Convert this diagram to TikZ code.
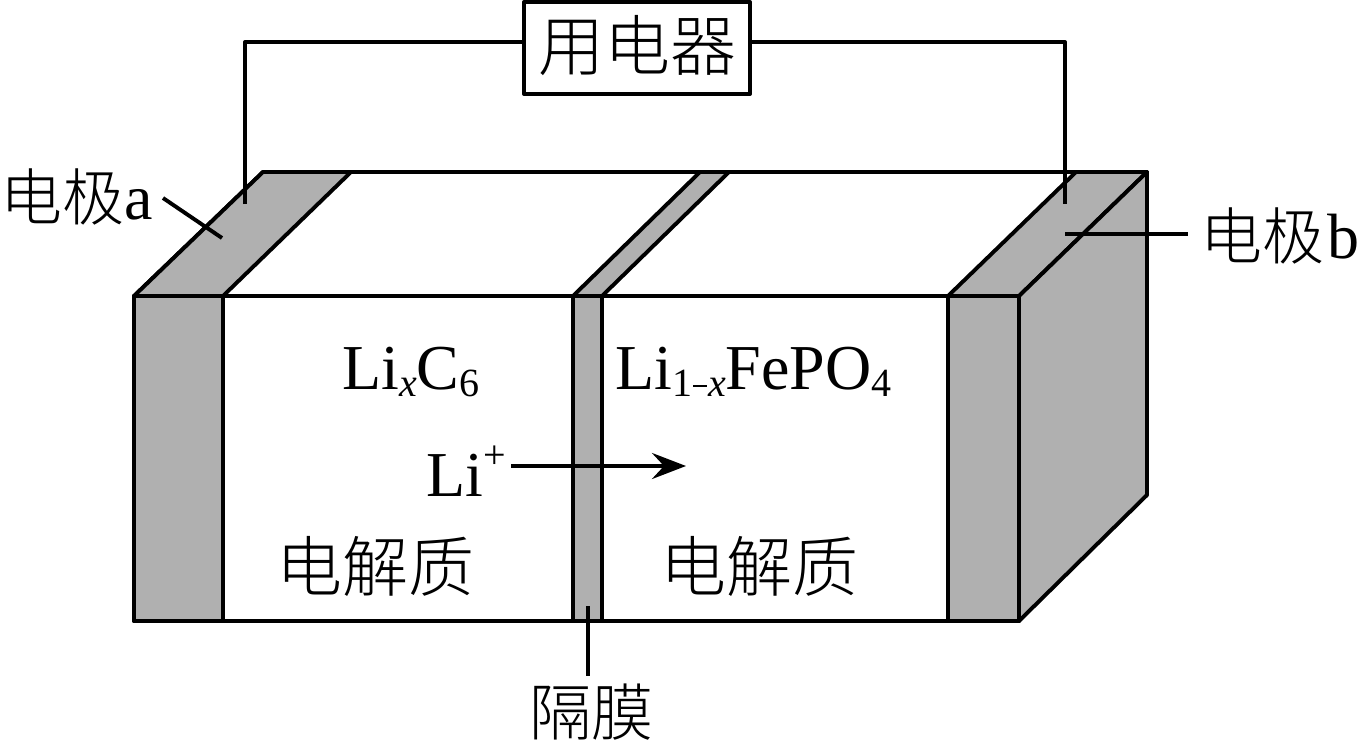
\documentclass[tikz,border=0pt]{standalone}
\usepackage{fontspec}
\setmainfont{Liberation Serif}
\newfontfamily\cjk{Noto Sans CJK SC Light}
\newcommand\smallsz{\fontsize{40}{40}\selectfont}
\usetikzlibrary{arrows.meta}
\begin{document}
\begin{tikzpicture}[x=1pt,y=-1pt,
  fillg/.style={fill=black!31},
  cn/.style={inner sep=0pt,font=\cjk\fontsize{66}{66}\selectfont},
  cnlab/.style={inner sep=0pt,font=\cjk\fontsize{62}{62}\selectfont},
  mix/.style={inner sep=0pt,font=\fontsize{64}{64}\selectfont}]
\useasboundingbox (0,0) rectangle (1358,744);
\begin{scope}[line width=3.9pt,line join=round]
\draw[fill=white] (134,296) -- (263,172) -- (1147,172) -- (1019,296) -- cycle;
\draw[fill=white] (134,296) rectangle (1019,621);
\draw[fillg] (134,296) rectangle (223,621);
\draw[fillg] (134,296) -- (263,172) -- (351,172) -- (223,296) -- cycle;
\draw[fillg] (573,296) rectangle (602,621);
\draw[fillg] (573,296) -- (700,172) -- (729,172) -- (602,296) -- cycle;
\draw[fillg] (948,296) rectangle (1019,621);
\draw[fillg] (948,296) -- (1076,172) -- (1147,172) -- (1019,296) -- cycle;
\draw[fillg] (1019,296) -- (1147,172) -- (1147,495) -- (1019,621) -- cycle;
\node[draw,fill=white,minimum width=226pt,minimum height=92pt,inner sep=0pt] (dev) at (637,48) {};
\coordinate (wa) at (245,204);
\coordinate (wb) at (1065,204);
\draw (wa) -- (245,42) -- (dev.west |- 0,42);
\draw (dev.east |- 0,42) -- (1065,42) -- (wb);
\coordinate (a1) at (163,198); \coordinate (a2) at (222,238);
\draw (a1) -- (a2);
\coordinate (b1) at (1065,234); \coordinate (b2) at (1188,234);
\draw (b1) -- (b2);
\coordinate (m1) at (588,606); \coordinate (m2) at (588,676);
\draw (m1) -- (m2);
\coordinate (l1) at (511,466); \coordinate (l2) at (686,466);
\draw[-{Stealth[length=34pt,width=26pt,inset=12pt]}] (l1) -- (l2);
\end{scope}
\node[cn] (devt) at (637,46) {用电器};
\node[cnlab,anchor=west] (ea) at (0,197) {电极};
\node[mix,anchor=base west] (la) at (124,219) {a};
\node[cnlab,anchor=west] (eb) at (1200,236) {电极};
\node[mix,anchor=base west] (lb) at (1327,258) {b};
\node[cnlab] (mo) at (591,712) {隔膜};
\node[cn] (j1) at (375,566) {电解质};
\node[cn] (j2) at (759,566) {电解质};
\node[mix,anchor=base west] (f1) at (342,389) {Li\raisebox{-7pt}{\smallsz\itshape x}C\raisebox{-7pt}{\smallsz 6}};
\node[mix,anchor=base west] (f2) at (615,389) {Li\raisebox{-7pt}{\smallsz 1\kern1pt\raisebox{9pt}{\rule{14pt}{2.5pt}}\kern1pt\itshape x}FePO\raisebox{-7pt}{\smallsz 4}};
\node[mix,anchor=base west] (f3) at (426,496) {Li\raisebox{28pt}{\smallsz +}};
\end{tikzpicture}
\end{document}
